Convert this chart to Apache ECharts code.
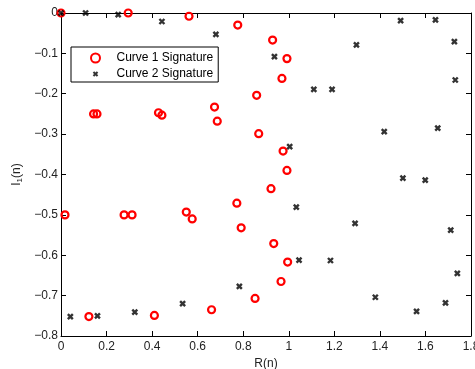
<!DOCTYPE html>
<html><head><meta charset="utf-8">
<script src="https://cdn.jsdelivr.net/npm/echarts@6/dist/echarts.min.js"></script>
<style>html,body{margin:0;padding:0;background:#fff}#c{width:475px;height:369px}</style>
</head><body><div id="c"></div>
<script>
var curve1X = [0,0.295,0.562,0.776,0.929,0.992,0.970,0.859,0.868,0.975,0.992,0.922,0.772,0.791,0.934,0.995,0.966,0.852,0.661,0.410,0.1225,0.0175,0.277,0.312,0.550,0.576,0.143,0.158,0.428,0.443,0.674,0.686];
var curve1Y = [0,0,-0.008,-0.030,-0.067,-0.113,-0.162,-0.204,-0.299,-0.342,-0.390,-0.435,-0.471,-0.532,-0.571,-0.617,-0.665,-0.707,-0.735,-0.749,-0.752,-0.500,-0.500,-0.500,-0.493,-0.510,-0.250,-0.250,-0.247,-0.253,-0.233,-0.268];
var curve2X = [0,0.108,0.251,0.443,0.680,0.937,1.297,1.491,1.644,1.727,1.731,1.110,1.190,1.419,1.654,1.004,1.501,1.599,1.033,1.291,1.711,1.045,1.183,1.740,0.783,1.380,1.688,1.561,0.041,0.160,0.324,0.534];
var curve2Y = [0,0,-0.004,-0.021,-0.053,-0.108,-0.079,-0.019,-0.017,-0.071,-0.166,-0.189,-0.189,-0.294,-0.285,-0.331,-0.409,-0.414,-0.481,-0.521,-0.538,-0.612,-0.613,-0.645,-0.677,-0.704,-0.718,-0.739,-0.752,-0.750,-0.741,-0.720];
var seriesNames = ['Curve 1 Signature','Curve 2 Signature'];
var xTicks = ['0','0.2','0.4','0.6','0.8','1','1.2','1.4','1.6','1.8'];
var yTicks = ['0','\u22120.1','\u22120.2','\u22120.3','\u22120.4','\u22120.5','\u22120.6','\u22120.7','\u22120.8'];

function zip(a,b){return a.map(function(v,i){return [v,b[i]];});}
var font = 'Liberation Sans, Arial, Helvetica, sans-serif';
var chart = echarts.init(document.getElementById('c'));
var axisLine = {show:true, onZero:false, lineStyle:{color:'#000', width:1}};
var axisTick = {show:true, inside:true, length:5, lineStyle:{color:'#000'}};
var crossPath = 'path://M-0.6,-0.6M1.6,1.6M0,0L1,1M1,0L0,1';
chart.setOption({
  animation:false,
  grid:{left:61, right:4, top:13, bottom:33, containLabel:false, outerBoundsMode:'none'},
  legend:{
    orient:'vertical', left:71, top:47,
    data:seriesNames,
    itemWidth:32, itemHeight:9, itemGap:4,
    padding:[5,5,2,19],
    borderColor:'#000', borderWidth:1, backgroundColor:'#fff', borderRadius:0,
    textStyle:{fontFamily:font, fontSize:12, color:'#000'}
  },
  xAxis:[{
    type:'value', min:0, max:1.8, interval:0.2, position:'bottom',
    axisLine:axisLine, axisTick:axisTick, splitLine:{show:false},
    axisLabel:{fontFamily:font, fontSize:12, color:'#222', margin:5,
      formatter:function(v){var i=Math.round(v/0.2);return xTicks[i]!==undefined?xTicks[i]:'';}},
    name:'R(n)', nameLocation:'middle', nameGap:20,
    nameTextStyle:{fontFamily:font, fontSize:12, color:'#222'}
  },{
    type:'value', min:0, max:1.8, interval:0.2, position:'top',
    axisLine:axisLine, axisTick:axisTick, axisLabel:{show:false}, splitLine:{show:false}
  }],
  yAxis:[{
    type:'value', min:-0.8, max:0, interval:0.1, position:'left',
    axisLine:axisLine, axisTick:axisTick, splitLine:{show:false},
    axisLabel:{fontFamily:font, fontSize:12, color:'#222', margin:3,
      formatter:function(v){var i=Math.round(-v/0.1);return yTicks[i]!==undefined?yTicks[i]:'';}},
    name:'I{s|1}(n)', nameLocation:'middle', nameGap:37, nameRotate:90,
    nameTextStyle:{fontFamily:font, fontSize:12, color:'#222',
      rich:{s:{fontFamily:font, fontSize:8, color:'#222', verticalAlign:'bottom', padding:[6,0,0,0]}}}
  },{
    type:'value', min:-0.8, max:0, interval:0.1, position:'right',
    axisLine:axisLine, axisTick:axisTick, axisLabel:{show:false}, splitLine:{show:false}
  }],
  series:[{
    name:seriesNames[0], type:'scatter', xAxisIndex:0, yAxisIndex:0,
    data:zip(curve1X, curve1Y), symbol:'circle', symbolSize:7, clip:false,
    itemStyle:{color:'rgba(0,0,0,0)', borderColor:'#ff0000', borderWidth:2.2, opacity:1}
  },{
    name:seriesNames[1], type:'scatter', xAxisIndex:0, yAxisIndex:0,
    data:zip(curve2X, curve2Y), symbol:crossPath, symbolSize:11, clip:false,
    itemStyle:{color:'#000', borderColor:'#000', borderWidth:2.4}
  }]
});
</script></body></html>
